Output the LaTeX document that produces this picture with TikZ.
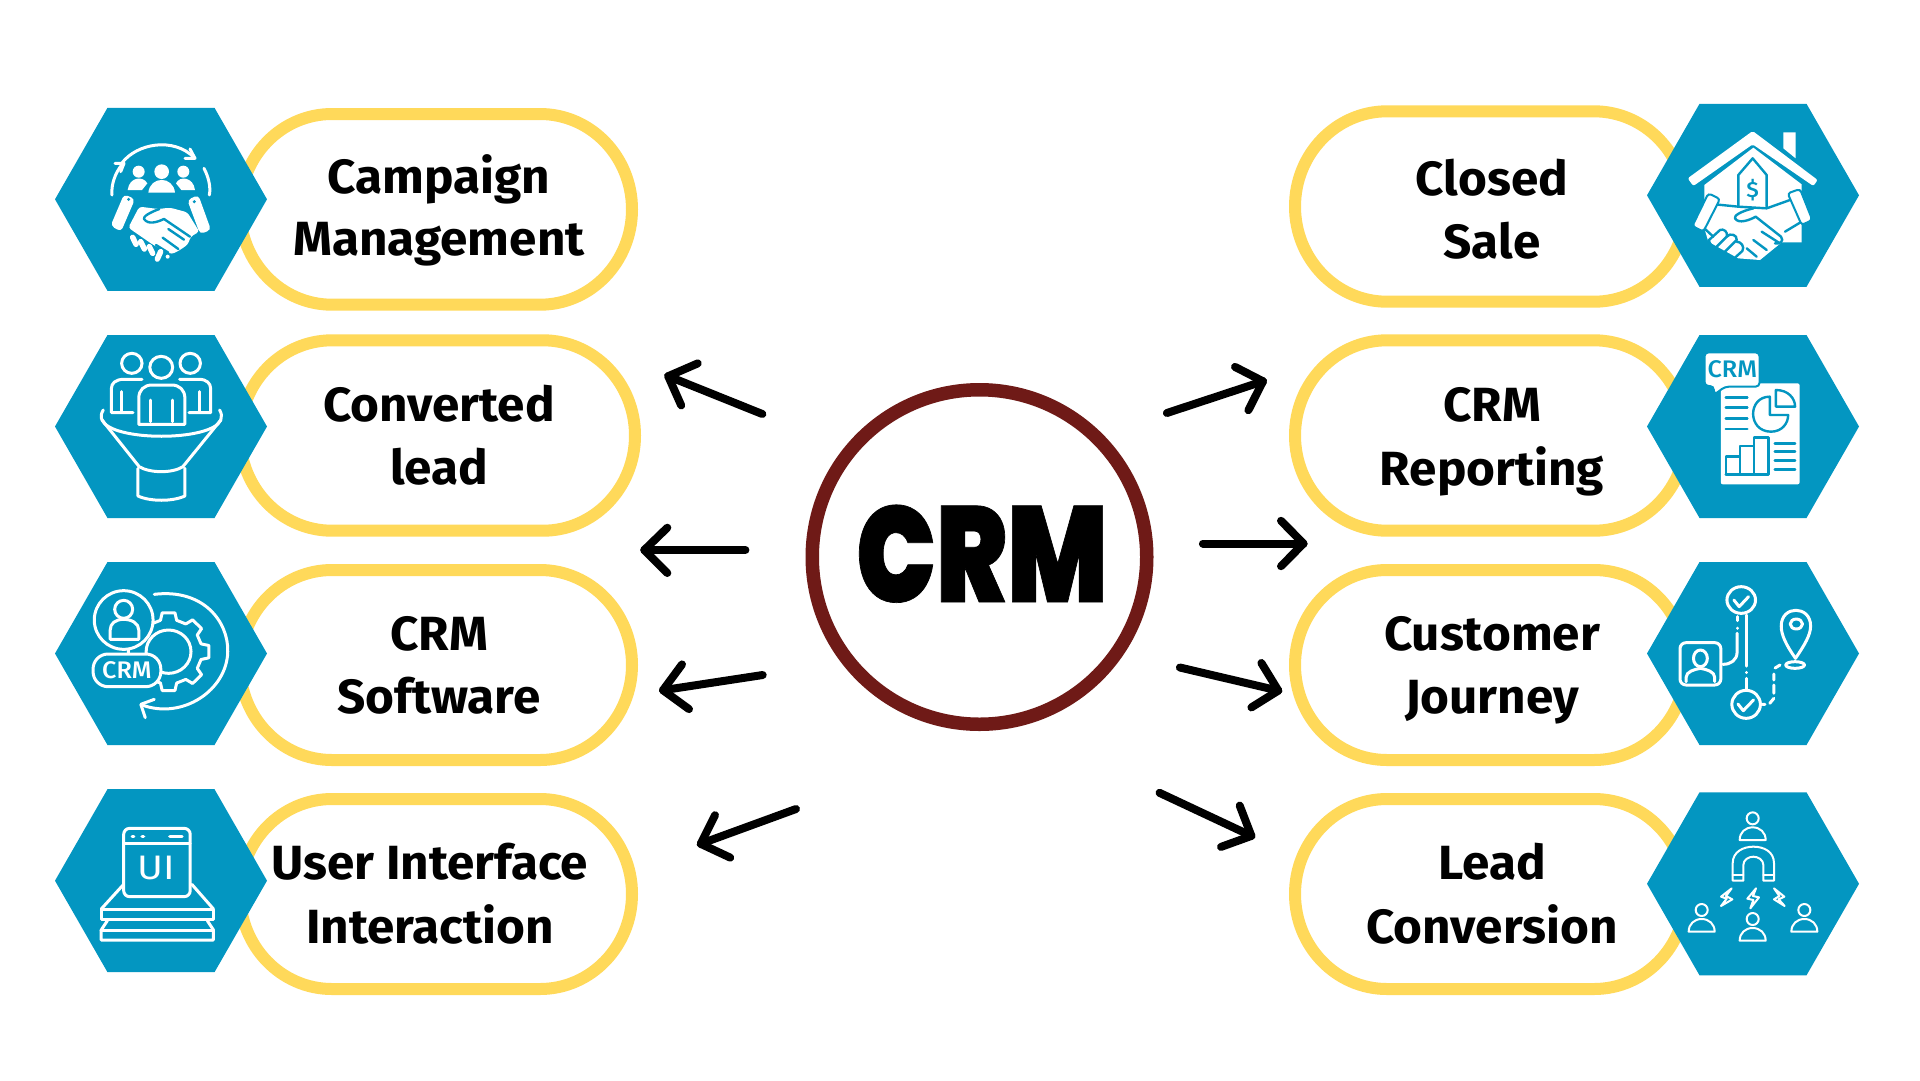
\documentclass[tikz,border=0pt]{standalone}
\usepackage{fontspec}
\setmainfont{Fira Sans}
\newfontfamily\labf{Fira Sans}[UprightFont=* Bold,FakeStretch=1.03]
\newfontfamily\bigf{Poppins}[UprightFont=* Black,FakeStretch=0.78,FakeBold=0.5]
\newfontfamily\icof{Fira Sans}[UprightFont=* Medium,FakeStretch=1.05]
\newfontfamily\icol{Fira Sans}[FakeStretch=1.15]
\definecolor{hexc}{HTML}{0396C1}
\definecolor{pillc}{HTML}{FFD95A}
\definecolor{ringc}{HTML}{6F1A17}
\tikzset{
  zl1/.style={shift={(40,90)},x=.40816pt,y=-.33333pt},
  zl2/.style={shift={(40,550)},x=.40816pt,y=-.33333pt},
  zr1/.style={shift={(1280,90)},x=.40816pt,y=-.33333pt},
  zr2/.style={shift={(1280,550)},x=.40816pt,y=-.33333pt},
  tri/.style={x=.33333pt,y=-.33333pt},
  ic/.style={draw=white,line width=3pt,line cap=round,line join=round},
  icc/.style={draw=hexc,line width=2.4pt,line cap=round,line join=round},
  thin/.style={draw=white,line width=2pt,line cap=round,line join=round},
  lab/.style={font=\labf\fontsize{48}{63}\selectfont,align=center,anchor=base,inner sep=0pt,text=black},
  arrowline/.style={draw=black,line width=8pt,line cap=round,line join=round},
}
\newcommand{\pillshape}[4]{% x1 y1 x2 y2 outer edges
  \pgfmathsetmacro\pa{#1+6}\pgfmathsetmacro\pb{#2+6}\pgfmathsetmacro\pc{#3-6}\pgfmathsetmacro\pd{#4-6}
  \pgfmathsetmacro\pr{(#4-#2-12)/2}
  \draw[draw=pillc,fill=white,line width=12pt]
    ({\pa+92},\pb) -- ({\pc-92},\pb) arc[start angle=90,end angle=-90,x radius=92pt,y radius=\pr pt]
    -- ({\pa+92},\pd) arc[start angle=270,end angle=90,x radius=92pt,y radius=\pr pt] -- cycle;}
\newcommand{\hexshape}[2]{%
  \fill[hexc] ({#1-106},#2) -- ({#1-53.5},{#2-91.5}) -- ({#1+53.5},{#2-91.5}) -- ({#1+106},#2) -- ({#1+53.5},{#2+91.5}) -- ({#1-53.5},{#2+91.5}) -- cycle;}
\newcommand{\arrowmark}[9]{% name tail tip b1 b2
  \coordinate (#1t) at (#2,#3);\coordinate (#1h) at (#4,#5);\coordinate (#1a) at (#6,#7);\coordinate (#1b) at (#8,#9);
  \draw[arrowline] (#1t) -- (#1h);\draw[arrowline] (#1a) -- (#1h) -- (#1b);}
\newcommand{\persono}[2]{%
  \draw[thin] (#1,#2) circle[radius=18];
  \draw[thin] ({#1-39},{#2+65}) .. controls ({#1-39},{#2+42}) and ({#1-22},{#2+27}) .. (#1,{#2+27}) .. controls ({#1+22},{#2+27}) and ({#1+39},{#2+42}) .. ({#1+39},{#2+65}) -- cycle;}
\begin{document}
\begin{tikzpicture}[x=1pt,y=-1pt]
\useasboundingbox (0,0) rectangle (1920,1080);
\fill[white] (0,0) rectangle (1920,1080);
% pills
\pillshape{234}{108}{638}{310.7}
\pillshape{234}{334.3}{641}{536.7}
\pillshape{234}{564}{638}{766}
\pillshape{234}{793}{638}{995}
\pillshape{1289}{105.3}{1692}{307.7}
\pillshape{1289}{334.3}{1692}{536.7}
\pillshape{1289}{564}{1692}{766}
\pillshape{1289}{793}{1692}{995}
% hexagons
\hexshape{161}{199.3}\hexshape{161}{426.5}\hexshape{161}{653.5}\hexshape{161}{880.7}
\hexshape{1753}{195.3}\hexshape{1753}{426.5}\hexshape{1753}{653.5}\hexshape{1753}{883.8}
% labels
\node[lab] (l1) at (439,193) {Campaign};
\node[lab] (l1b) at (439,255.5) {Management};
\node[lab] (l2) at (439,421.5) {Converted};
\node[lab] (l2b) at (439,484.5) {lead};
\node[lab] (l3) at (439,650.5) {CRM};
\node[lab] (l3b) at (439,713.5) {Software};
\node[lab] (l4) at (430,879.5) {User Interface};
\node[lab] (l4b) at (430,943) {Interaction};
\node[lab] (r1) at (1492,195.5) {Closed};
\node[lab] (r1b) at (1492,258.5) {Sale};
\node[lab] (r2) at (1492,421.5) {CRM};
\node[lab] (r2b) at (1492,485) {Reporting};
\node[lab] (r3) at (1492,650.5) {Customer};
\node[lab] (r3b) at (1492,713.5) {Journey};
\node[lab] (r4) at (1492,879.5) {Lead};
\node[lab] (r4b) at (1492,943) {Conversion};
% centre ring
\fill[ringc,even odd rule] (979.5,557) circle[radius=174] (979.5,557) circle[radius=160.5];
\node[font=\bigf\fontsize{136}{136}\selectfont,anchor=base,inner sep=0pt] (crm) at (982,602) {CRM};
% arrows
\arrowmark{a}{762.3}{414}{668.2}{376.2}{697.7}{363.4}{681.2}{405.4}
\arrowmark{b}{745.4}{550}{644.3}{550}{667.3}{527.7}{667.3}{573}
\arrowmark{c}{762.7}{675}{663}{690.2}{682}{664.4}{689}{709.1}
\arrowmark{d}{796}{809}{700.7}{843.8}{715}{815.2}{730.2}{857.6}
\arrowmark{e}{1166.9}{413}{1263}{381.3}{1235}{366.9}{1248.4}{410.2}
\arrowmark{f}{1202.9}{543.5}{1303.5}{543.5}{1281}{520.8}{1281}{566.2}
\arrowmark{g}{1179.9}{667.5}{1278.3}{690.6}{1261.4}{663}{1251.4}{707.4}
\arrowmark{h}{1159.5}{792.8}{1251.4}{835.9}{1239.7}{805.6}{1221}{846.9}
% icon: campaign
\begin{scope}[shift={(100,135)},tri]
\draw[ic] (65,85) .. controls (110,25) and (220,5) .. (283,68);
\draw[ic] (270,42) -- (285,70) -- (255,70);
\draw[ic] (45,85) -- (72,85) -- (62,110);
\draw[ic] (65,90) .. controls (45,115) and (33,150) .. (36,180);
\draw[ic] (312,100) .. controls (325,125) and (333,155) .. (328,180);
\fill[white] (116,110) circle[radius=18] (185,110) circle[radius=22] (250,110) circle[radius=18];
\fill[white] (83,165) .. controls (88,125) and (130,122) .. (142,145) -- (126,165) -- cycle;
\fill[white] (145,173) .. controls (150,122) and (220,122) .. (225,173) -- cycle;
\fill[white] (285,165) .. controls (280,125) and (238,122) .. (228,145) -- (244,165) -- cycle;
\fill[white,rounded corners=4pt] (72,178) -- (105,192) -- (63,290) -- (32,272) -- cycle;
\fill[white,rounded corners=4pt] (262,195) -- (295,180) -- (333,285) -- (300,297) -- cycle;
\fill[hexc] (86,193) circle[radius=5] (283,200) circle[radius=5];
\fill[white,rounded corners=3pt] (118,215) -- (175,222) -- (210,218) -- (262,232) -- (298,290) -- (272,305) -- (264,328) -- (240,345) -- (215,358) -- (190,345) -- (160,330) -- (85,278) -- cycle;
\draw[icc] (178,222) .. controls (150,232) and (128,245) .. (132,252) .. controls (145,270) and (170,262) .. (192,252) -- (270,305);
\draw[icc] (205,282) -- (252,314) (188,308) -- (235,342) (168,330) -- (205,353);
\draw[draw=white,line width=5.5pt,line cap=round] (98,307) -- (108,328) (122,320) -- (133,342) (148,335) -- (158,355) (182,350) -- (172,372);
\fill[white] (203,365) circle[radius=6];
\end{scope}
% icon: converted lead
\begin{scope}[zl1]
\draw[ic] (225,820) ellipse[x radius=25,y radius=30] (297,832) ellipse[x radius=28,y radius=33] (368,820) ellipse[x radius=25,y radius=30];
\draw[ic] (250,868) -- (205,868) .. controls (185,868) and (175,880) .. (175,895) -- (175,968) -- (228,968);
\draw[ic] (200,905) -- (200,965);
\draw[ic] (342,868) -- (390,868) .. controls (408,868) and (418,880) .. (418,895) -- (418,968) -- (365,968);
\draw[ic] (392,905) -- (392,965);
\draw[ic] (242,1003) -- (242,925) .. controls (242,900) and (255,885) .. (275,885) -- (322,885) .. controls (342,885) and (355,900) .. (355,925) -- (355,1003) -- cycle;
\draw[ic] (270,930) -- (270,995) (325,930) -- (325,995);
\draw[ic] (155,960) .. controls (150,970) and (148,980) .. (152,990) .. controls (175,1055) and (420,1055) .. (443,990) .. controls (446,980) and (445,970) .. (440,960);
\draw[ic] (152,990) -- (243,1130) .. controls (270,1150) and (325,1150) .. (350,1130) -- (443,990);
\draw[ic] (240,1135) -- (240,1218) .. controls (270,1235) and (325,1235) .. (355,1218) -- (355,1135);
\end{scope}
% icon: CRM software
\begin{scope}[zl2]
\foreach \k in {0,...,7}{
  \pgfmathsetmacro\a{\k*45}
  \draw[ic] ({315+82*cos(\a-14)},{305+97*sin(\a-14)}) -- ({315+100*cos(\a-9)},{305+118*sin(\a-9)}) -- ({315+100*cos(\a+9)},{305+118*sin(\a+9)}) -- ({315+82*cos(\a+14)},{305+97*sin(\a+14)}) -- ({315+82*cos(\a+31)},{305+97*sin(\a+31)});
}
\draw[ic] (315,305) ellipse[x radius=55,y radius=65];
\draw[ic,fill=hexc] (205,210) ellipse[x radius=72,y radius=88];
\draw[ic] (205,178) ellipse[x radius=22,y radius=27];
\draw[ic] (172,268) -- (172,240) .. controls (172,220) and (185,208) .. (205,208) .. controls (225,208) and (242,220) .. (242,240) -- (242,268) -- cycle;
\draw[ic] (218,298) -- (218,312);
\draw[ic,fill=hexc,rounded corners=15pt] (130,312) rectangle (296,410);
\node[font=\icof\fontsize{24}{24}\selectfont,text=white,inner sep=0pt] (i3t) at (213,361) {CRM};
\draw[ic] (280,133) .. controls (400,115) and (462,215) .. (460,305) .. controls (458,420) and (350,510) .. (250,465);
\draw[ic] (280,448) -- (247,463) -- (258,503);
\end{scope}
% icon: UI
\begin{scope}[zl2]
\draw[ic,rounded corners=6pt] (205,835) rectangle (368,1040);
\draw[ic] (205,880) -- (368,880);
\draw[ic,line width=3.2pt] (226,860) -- (230,860) (250,860) -- (254,860) (318,860) -- (348,860);
\node[font=\icol\fontsize{34}{34}\selectfont,text=white,inner sep=0pt] (i4t) at (284,955) {UI};
\draw[ic] (205,1003) -- (150,1077) (372,1003) -- (425,1077);
\draw[ic] (150,1077) rectangle (425,1107);
\draw[ic] (165,1112) -- (150,1140) -- (150,1170) -- (425,1170) -- (425,1140) -- (410,1112);
\draw[ic] (150,1140) -- (425,1140);
\end{scope}
% icon: closed sale
\begin{scope}[shift={(1685,125)},tri]
\fill[white] (295,22) -- (332,22) -- (332,100) -- (295,70) -- cycle;
\fill[white,rounded corners=2pt] (203,18) -- (398,165) -- (385,183) -- (203,58) -- (25,183) -- (8,160) -- cycle;
\fill[white] (58,180) -- (205,68) -- (350,178) -- (350,352) -- (290,352) -- (225,405) -- (160,400) -- (120,378) -- (70,350) -- (58,310) -- cycle;
\draw[icc] (160,245) -- (160,150) -- (203,100) -- (245,150) -- (245,245);
\node[font=\icof\fontsize{22}{22}\selectfont,text=hexc,inner sep=0pt] (i5t) at (203,195) {\$};
\draw[icc] (90,238) -- (160,245) -- (245,250) -- (315,225) (350,290) -- (300,320);
\draw[icc] (205,250) .. controls (170,258) and (145,272) .. (150,280) .. controls (160,298) and (195,285) .. (212,275) -- (288,335) .. controls (298,348) and (285,358) .. (270,355);
\draw[icc] (230,320) -- (280,352) (205,345) -- (245,375) (185,370) -- (215,395);
\draw[icc] (72,345) -- (105,315) .. controls (115,310) and (130,320) .. (125,335) -- (92,368) .. controls (80,365) and (72,355) .. (72,345);
\draw[icc] (125,335) .. controls (135,322) and (158,330) .. (155,345) -- (120,380);
\draw[icc] (155,350) .. controls (168,350) and (180,365) .. (172,378) -- (152,396);
\draw[icc] (60,312) -- (85,335);
\draw[draw=hexc,line width=2pt,fill=white,rounded corners=3pt] (70,205) -- (105,222) -- (55,320) -- (22,303) -- cycle;
\draw[draw=hexc,line width=2pt,fill=white,rounded corners=3pt] (308,205) -- (345,192) -- (382,285) -- (350,300) -- cycle;
\end{scope}
% icon: CRM reporting
\begin{scope}[zr1]
\fill[white,rounded corners=2pt] (1080,880) rectangle (1273,1183);
\draw[draw=hexc,line width=2pt,fill=white,rounded corners=4pt] (1175,787) -- (1040,787) -- (1040,888) -- (1063,888) -- (1063,915) -- (1090,890) -- (1175,890) -- cycle;
\node[font=\icof\fontsize{24}{24}\selectfont,text=hexc,inner sep=0pt] (i6t) at (1108,838) {CRM};
\draw[icc] (1092,922) -- (1145,922) (1092,953) -- (1145,953) (1092,985) -- (1145,985) (1092,1017) -- (1145,1017);
\draw[icc] (1200,920) .. controls (1145,920) and (1145,1025) .. (1203,1025) .. controls (1230,1025) and (1245,1000) .. (1245,975) -- (1200,975) -- cycle;
\draw[icc] (1215,950) -- (1215,900) .. controls (1245,900) and (1262,925) .. (1262,950) -- cycle;
\draw[icc] (1092,1153) -- (1092,1100) -- (1127,1100) -- (1127,1153) (1127,1100) -- (1127,1068) -- (1162,1068) -- (1162,1153) (1162,1068) -- (1162,1043) -- (1197,1043) -- (1197,1153) -- (1092,1153);
\draw[icc] (1212,1060) -- (1262,1060) (1212,1085) -- (1262,1085) (1212,1112) -- (1262,1112) (1212,1138) -- (1262,1138);
\end{scope}
% icon: customer journey
\begin{scope}[zr2]
\draw[ic] (1130,150) ellipse[x radius=35,y radius=40];
\draw[ic] (1112,150) -- (1125,170) -- (1148,140);
\draw[ic] (1143,195) -- (1143,348) (1143,367) -- (1143,368) (1143,385) -- (1143,420);
\draw[ic] (1120,200) -- (1120,212) (1120,234) -- (1120,235);
\draw[ic] (1120,250) -- (1120,305) .. controls (1120,330) and (1105,343) .. (1085,343);
\draw[ic,rounded corners=6pt] (980,278) rectangle (1080,405);
\draw[ic] (1030,325) ellipse[x radius=17,y radius=25];
\draw[ic] (995,395) -- (995,382) .. controls (995,365) and (1015,358) .. (1030,355) .. controls (1045,358) and (1065,365) .. (1065,382) -- (1065,395);
\draw[ic] (1142,463) ellipse[x radius=35,y radius=42];
\draw[ic] (1122,462) -- (1135,482) -- (1160,450);
\draw[ic] (1182,463) -- (1188,463) (1200,460) -- (1210,445) (1210,430) -- (1210,405) (1210,390) -- (1210,372) (1213,354) -- (1225,345);
\draw[ic] (1263,325) .. controls (1240,285) and (1228,255) .. (1228,228) .. controls (1228,165) and (1300,165) .. (1300,228) .. controls (1300,255) and (1285,285) .. (1263,325) -- cycle;
\draw[ic] (1265,222) circle[radius=15];
\draw[ic] (1262,345) ellipse[x radius=23,y radius=10];
\end{scope}
% icon: lead conversion
\begin{scope}[shift={(1690,810)},tri]
\persono{188}{25}
\persono{35}{300}
\persono{343}{300}
\persono{188}{327}
\draw[thin] (128,212) -- (128,160) .. controls (128,125) and (160,110) .. (190,110) .. controls (222,110) and (252,125) .. (252,160) -- (252,212) -- (220,212) -- (220,165) .. controls (220,150) and (205,140) .. (190,140) .. controls (175,140) and (160,150) .. (160,165) -- (160,212) -- cycle;
\draw[thin] (128,195) -- (160,195) (220,195) -- (252,195);
\draw[thin] (125,235) -- (93,260) -- (110,266) -- (93,288) -- (127,268) -- (108,258) -- cycle;
\draw[thin] (198,235) -- (172,266) -- (190,270) -- (181,295) -- (207,262) -- (189,258) -- cycle;
\draw[thin] (252,235) -- (283,260) -- (266,268) -- (284,288) -- (252,268) -- (268,258) -- cycle;
\end{scope}
\end{tikzpicture}
\end{document}
